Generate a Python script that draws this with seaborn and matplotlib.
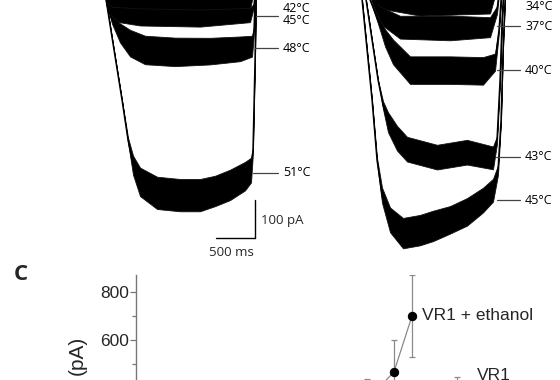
import numpy as np
import pandas as pd
import matplotlib
matplotlib.use("Agg")
import matplotlib.pyplot as plt
import seaborn as sns

sns.set_theme(style="white")
plt.rcParams['font.family'] = ['Open Sans', 'DejaVu Sans']

# ---------------- data: current traces (time in ms, current in pA) ----------------
# Panel A: VR1 alone
L51_t = [-100, 0, 13, 115, 218, 295, 359, 449, 667, 962, 1218, 1410, 1603, 1795, 1872, 1897, 1923, 1936, 1962, 2200]
L51_i = [0, 0, -39, -171, -303, -408, -474, -518, -547, -553, -553, -542, -526, -503, -487, -434, -197, -39, 0, 0]
L51_n = [0, 0, 0, 0, 0, 5, 20, 30, 34, 34, 34, 32, 32, 30, 26, 5, 0, 0, 0, 0]

L48_t = [-100, 0, 26, 90, 192, 321, 513, 897, 1346, 1731, 1885, 1910, 1923, 1936, 2200]
L48_i = [0, 0, -53, -92, -126, -153, -171, -176, -174, -168, -161, -118, -39, 0, 0]
L48_n = [0, 0, 0, 8, 20, 28, 30, 30, 28, 26, 22, 5, 0, 0, 0]

L45_t = [-100, 0, 26, 90, 449, 1218, 1859, 1910, 1936, 2200]
L45_i = [0, 0, -53, -76, -84, -87, -79, -53, 0, 0]
L45_n = [0, 0, 5, 15, 18, 18, 15, 3, 0, 0]

L42_t = [-100, 0, 26, 321, 1859, 1923, 2200]
L42_i = [0, 0, -45, -50, -50, 0, 0]
L42_n = [0, 0, 8, 12, 12, 0, 0]

# Panel B: VR1 + ethanol
R45_t = [-100, 0, 26, 90, 154, 218, 282, 385, 551, 769, 936, 1154, 1372, 1577, 1705, 1769, 1808, 1833, 1859, 1885, 2200]
R45_i = [0, 0, -39, -171, -303, -461, -553, -618, -653, -645, -634, -618, -597, -566, -540, -487, -355, -171, -39, 0, 0]
R45_n = [0, 0, 0, 0, 0, 5, 16, 26, 32, 32, 32, 29, 29, 26, 24, 10, 3, 0, 0, 0, 0]

R43_t = [-100, 26, 77, 154, 231, 295, 359, 474, 603, 987, 1372, 1705, 1756, 1795, 1821, 1846, 2200]
R43_i = [0, 0, -39, -145, -250, -316, -361, -403, -432, -453, -440, -455, -408, -250, -92, 0, 0]
R43_n = [0, 0, 0, 0, 0, 8, 21, 26, 26, 26, 26, 24, 8, 3, 0, 0, 0]

R40_t = [-100, 64, 128, 231, 321, 423, 641, 1154, 1577, 1731, 1782, 1821, 2200]
R40_i = [0, 0, -39, -92, -139, -176, -224, -224, -226, -203, -118, 0, 0]
R40_n = [0, 0, 0, 8, 18, 26, 29, 29, 29, 18, 5, 0, 0]

R37_t = [-100, 103, 154, 256, 513, 1154, 1667, 1756, 1795, 2200]
R37_i = [0, 0, -39, -79, -111, -113, -111, -66, 0, 0]
R37_n = [0, 0, 5, 18, 24, 26, 21, 8, 0, 0]

R34_t = [-100, 128, 192, 769, 1667, 1769, 2200]
R34_i = [0, 0, -47, -58, -55, 0, 0]
R34_n = [0, 0, 10, 18, 16, 0, 0]

SCALE_MS = 500
SCALE_PA = 100

# Panel C: peak current vs temperature
ETH_temp = [34, 37, 40, 43, 45]
ETH_curr = [40, 150, 350, 467, 700]
ETH_err = [15, 40, 87, 133, 172]
VR1_temp = [42, 45, 48, 50]
VR1_curr = [20, 60, 180, 380]
VR1_err = [10, 20, 45, 66]

# ---------------- layout helpers ----------------
W, H = 560, 380
fig = plt.figure(figsize=(W / 100, H / 100), dpi=100)
fig.patch.set_facecolor('white')


def rect(x0, y0, x1, y1):
    return [x0 / W, 1 - y1 / H, (x1 - x0) / W, (y1 - y0) / H]


ms_per_px = SCALE_MS / 39.0
pa_per_px = SCALE_PA / 38.0
base_px = -15  # baseline row (above the crop)


def trace_axes(onset_px):
    ax = fig.add_axes(rect(0, 0, 560, 260))
    ax.set_xlim((0 - onset_px) * ms_per_px, (560 - onset_px) * ms_per_px)
    ax.set_ylim(-(260 - base_px) * pa_per_px, -(0 - base_px) * pa_per_px)
    ax.axis('off')
    ax.patch.set_alpha(0)
    return ax


axL = trace_axes(105)
axR = trace_axes(360)


def draw_trace(ax, t, i, n):
    t = np.asarray(t, float)
    i = np.asarray(i, float)
    n = np.asarray(n, float) * 1.25
    ax.fill_between(t, i - n, i + n, color='black', lw=0.6, edgecolor='#111111')
    sns.lineplot(x=t, y=i, ax=ax, color='black', lw=1.0, estimator=None, sort=False)


for t, i, n in [(L42_t, L42_i, L42_n), (L45_t, L45_i, L45_n),
                (L48_t, L48_i, L48_n), (L51_t, L51_i, L51_n)]:
    draw_trace(axL, t, i, n)
for t, i, n in [(R34_t, R34_i, R34_n), (R37_t, R37_i, R37_n), (R40_t, R40_i, R40_n),
                (R43_t, R43_i, R43_n), (R45_t, R45_i, R45_n)]:
    draw_trace(axR, t, i, n)


def px_t(ax_onset, x):
    return (x - ax_onset) * ms_per_px


def px_i(y):
    return -(y - base_px) * pa_per_px


lab_kw = dict(fontsize=9, color='black', va='center', ha='left')
lead_kw = dict(color='#444444', lw=0.9)

# left labels
for lab, y_lab, y_lead, x_start in [('42°C', 8, None, None), ('45°C', 20, 16, 256),
                                    ('48°C', 49, 48, 255), ('51°C', 173, 173, 253)]:
    if y_lead is not None:
        axL.plot([px_t(105, x_start), px_t(105, 278)], [px_i(y_lead)] * 2, **lead_kw)
    axL.text(px_t(105, 283), px_i(y_lab), lab, **lab_kw)

# right labels
for lab, y_lab, y_lead, x_start in [('34°C', 6, None, None), ('37°C', 27, 26, 497),
                                    ('40°C', 70, 70, 497), ('43°C', 157, 157, 496),
                                    ('45°C', 200, 200, 497)]:
    if y_lead is not None:
        axR.plot([px_t(360, x_start), px_t(360, 520)], [px_i(y_lead)] * 2, **lead_kw)
    axR.text(px_t(360, 525), px_i(y_lab), lab, **lab_kw)

# scale bar
sb_t = px_t(105, 255)
sb_i = px_i(238)
axL.plot([sb_t, sb_t], [sb_i + SCALE_PA, sb_i], color='black', lw=1.0)
axL.plot([sb_t - SCALE_MS, sb_t], [sb_i, sb_i], color='black', lw=1.0)
axL.text(sb_t + 6 * ms_per_px, sb_i + SCALE_PA / 2 - 5, f'{SCALE_PA} pA', fontsize=9.5, va='center', ha='left')
axL.text(sb_t - SCALE_MS / 2 - 4 * ms_per_px, sb_i - 14 * pa_per_px, f'{SCALE_MS} ms', fontsize=9.5, va='center', ha='center')

# ---------------- panel C ----------------
helv = ['Liberation Sans', 'DejaVu Sans']
px_per_deg = 9.0
axC = fig.add_axes(rect(136, 275, 540, 484))
axC.set_xlim(45 - (412 - 136) / px_per_deg, 45 + (540 - 412) / px_per_deg)
axC.set_ylim(0, 800 + 17 / 0.24)
axC.patch.set_alpha(0)

df_eth = pd.DataFrame({'temp': ETH_temp, 'curr': ETH_curr})
df_vr1 = pd.DataFrame({'temp': VR1_temp, 'curr': VR1_curr})
for df, err in [(df_eth, ETH_err), (df_vr1, VR1_err)]:
    axC.errorbar(df['temp'], df['curr'], yerr=err, fmt='none', ecolor='#8a8a8a',
                 elinewidth=0.9, capsize=2.5, capthick=0.9, zorder=2)
    sns.lineplot(data=df, x='temp', y='curr', ax=axC, color='#8a8a8a', lw=0.9,
                 marker='o', markersize=6, markerfacecolor='black', markeredgecolor='black',
                 estimator=None, sort=False, zorder=3)

axC.annotate('VR1 + ethanol', xy=(ETH_temp[-1], ETH_curr[-1]), xytext=(7.5, 0),
             textcoords='offset points', va='center', ha='left', fontsize=12.5, family=helv)
axC.annotate('VR1', xy=(VR1_temp[-1], VR1_curr[-1]), xytext=(14, 12.5),
             textcoords='offset points', va='center', ha='left', fontsize=12.5, family=helv)

for s in ['top', 'right', 'bottom']:
    axC.spines[s].set_visible(False)
axC.spines['left'].set_color('#777777')
axC.spines['left'].set_linewidth(1.0)
axC.set_yticks([0, 200, 400, 600, 800])
axC.set_yticks([100, 300, 500, 700], minor=True)
axC.set_xticks([])
axC.tick_params(axis='y', which='major', direction='out', length=4, width=0.9, color='#777777',
                labelsize=12.5, pad=1, left=True)
axC.tick_params(axis='y', which='minor', direction='out', length=3, width=0.9, color='#777777', left=True)
for lbl in axC.get_yticklabels():
    lbl.set_family(helv)
axC.set_xlabel('')
axC.set_ylabel('')
axC.grid(False)

fig.text(77 / W, 1 - 355 / H, '(pA)', rotation=90, ha='center', va='center',
         fontsize=15, family=helv)
fig.text(14 / W, 1 - 280 / H, 'C', fontsize=16, fontweight='bold', ha='left', va='baseline')

fig.savefig('out.png', dpi=100, facecolor='white')
